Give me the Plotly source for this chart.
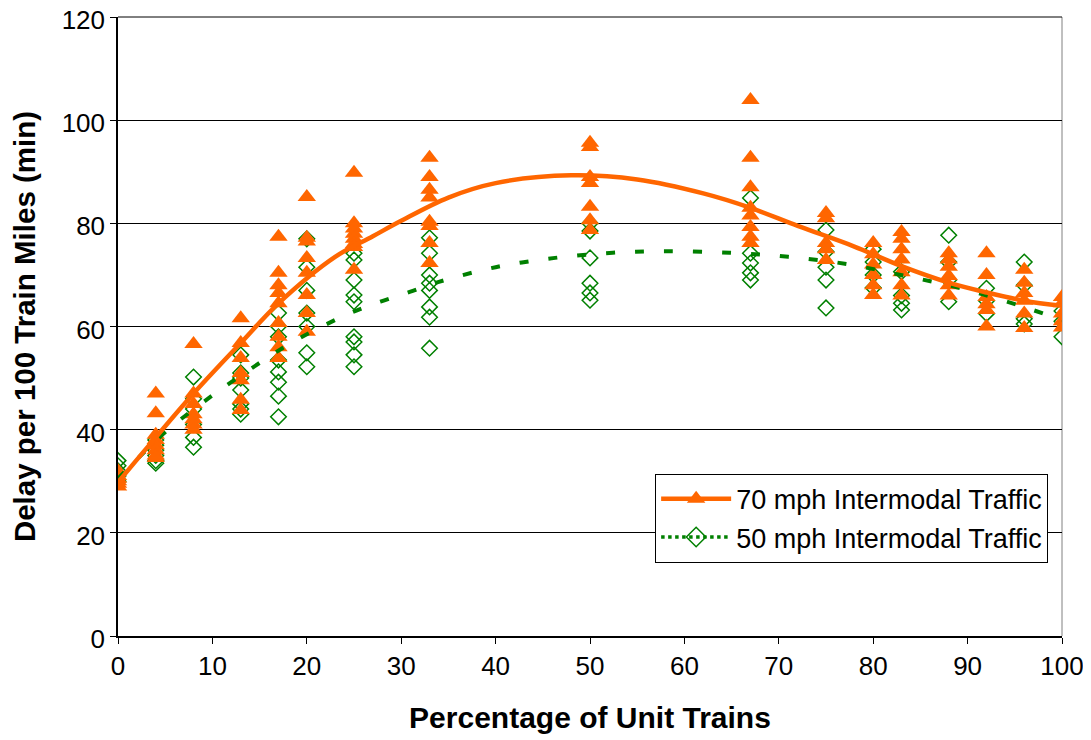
import plotly.graph_objects as go

# Percentage of unit trains at which simulations were run
x_levels = [0, 4, 8, 13, 17, 20, 25, 33, 50, 67, 75, 80, 83, 88, 92, 96, 100]

# 70 mph intermodal traffic delays (min per 100 train miles), one list per x level
delay_70 = [
    [29, 30, 31, 32, 29.5, 30.5],
    [47, 43.2, 39, 38, 37, 36, 35, 34.5],
    [56.6, 47, 45, 43, 42, 41, 40],
    [61.6, 56.8, 53.9, 51, 49.6, 45.8, 43.8],
    [77.4, 70.4, 68, 66.5, 64.5, 60.7, 58, 56, 53.9],
    [85.1, 77.2, 76.5, 73.3, 70.4, 66.1, 62.6, 59],
    [89.8, 80, 79, 78, 77, 76, 75.4, 71],
    [92.7, 89, 86.5, 85, 80.3, 79.5, 76.2, 72.3],
    [95.6, 94.8, 89, 87.8, 83.2, 80.6, 78.7],
    [103.9, 92.7, 87, 83, 81.5, 79.3, 77.4, 76.2],
    [82, 81, 76.2, 75, 72.9],
    [76.2, 74, 72, 70, 68, 66.1],
    [78.3, 77, 75, 73, 70.5, 68, 66],
    [74.2, 73, 71.6, 69.8, 68, 66],
    [74.2, 70, 65.7, 64.3, 63.2, 60],
    [71, 68.5, 66.5, 65, 62.5, 59.7],
    [65.7, 64.5, 62.5, 61, 59.8],
]

# 50 mph intermodal traffic delays
delay_50 = [
    [34, 33, 32, 31, 30],
    [38, 37, 36, 35, 34, 33.5],
    [50.2, 46, 44, 41, 38.5, 36.6],
    [54.5, 51, 50, 47.7, 45, 44, 43],
    [62.6, 60, 58, 53.5, 51.2, 49.2, 46.5, 42.5],
    [77, 71.5, 67, 62.6, 60, 54.9, 52.2],
    [74.2, 72.9, 69, 66.1, 64.8, 58, 57, 54.5, 52.2],
    [77.2, 74.2, 70, 68.4, 67, 63.8, 61.8, 55.8],
    [80, 78.5, 73.3, 68.4, 66.5, 65.1],
    [84.9, 74.2, 72.3, 70.4, 69],
    [78.7, 74.5, 71.5, 69, 63.6],
    [75, 72.5, 70, 67.5],
    [70.6, 66, 64.5, 63.2],
    [77.7, 72.5, 69, 64.8],
    [67.4, 65, 62.5],
    [72.5, 68, 61.5, 60.5],
    [63, 61, 58],
]

# Trend lines
trend70_x = [0, 4, 8, 13, 17, 23, 27, 30, 35, 40, 48, 55, 62, 67, 72, 78, 83, 88, 92, 96, 100]
trend70_y = [29.8, 38.5, 47, 56.8, 64.5, 73.5, 77.5, 80.5, 85, 87.8, 89.3, 88.5, 85.8, 83,
             79.5, 75.5, 71.7, 68.5, 66.6, 65, 64]
trend50_x = [0, 2.7, 5.3, 10.5, 15.8, 18.5, 21.6, 24.6, 27.8, 30.9, 33.9, 40, 46.3, 52.4,
             58, 64.8, 71, 77.2, 83.4, 89.5, 95.6, 100]
trend50_y = [30.5, 35.5, 40, 47.3, 53.9, 57, 60, 62.6, 64.8, 66.7, 68.6, 71.5, 73.3, 74.3,
             74.6, 74.3, 73.5, 72.1, 69.8, 67.3, 64, 61.2]

ORANGE = "#FF6600"
GREEN = "#008000"
FONT = "Arial, Liberation Sans, sans-serif"

def flatten(levels, groups):
    xs, ys = [], []
    for xv, g in zip(levels, groups):
        for yv in g:
            xs.append(xv)
            ys.append(yv)
    return xs, ys

x70, y70 = flatten(x_levels, delay_70)
x50, y50 = flatten(x_levels, delay_50)

fig = go.Figure()

fig.add_trace(go.Scatter(
    x=x50, y=y50, mode="markers", showlegend=False,
    marker=dict(symbol="diamond-open", size=12, color=GREEN, line=dict(width=1.5, color=GREEN)),
))
fig.add_trace(go.Scatter(
    x=x70, y=y70, mode="markers", showlegend=False,
    marker=dict(symbol="triangle-up", size=16, color=ORANGE),
))
fig.add_trace(go.Scatter(
    x=trend50_x, y=trend50_y, mode="lines", showlegend=False, line_shape="spline",
    line=dict(color=GREEN, width=4, dash="9px,20px"),
))
fig.add_trace(go.Scatter(
    x=trend70_x, y=trend70_y, mode="lines", showlegend=False, line_shape="spline",
    line=dict(color=ORANGE, width=4.5),
))

# legend entries
fig.add_trace(go.Scatter(
    x=[None], y=[None], mode="lines+markers", name="70 mph Intermodal Traffic",
    legendgroup="a",
    line=dict(color=ORANGE, width=4.5),
    marker=dict(symbol="triangle-up", size=18, color=ORANGE),
))
fig.add_trace(go.Scatter(
    x=[None], y=[None], mode="lines+markers", name="50 mph Intermodal Traffic",
    legendgroup="b",
    line=dict(color=GREEN, width=3.5, dash="dot"),
    marker=dict(symbol="diamond-open", size=15, color=GREEN, line=dict(width=1.5, color=GREEN)),
))

# page body has an 8px default margin, so margins are offset by it
fig.update_layout(
    width=1091, height=740,
    margin=dict(l=110, r=37, t=9, b=112),
    paper_bgcolor="white", plot_bgcolor="white",
    font=dict(family=FONT, size=26, color="black"),
    legend=dict(
        x=0.569, y=0.262, xanchor="left", yanchor="top",
        bgcolor="white", bordercolor="black", borderwidth=1,
        font=dict(family=FONT, size=27, color="black"),
        tracegroupgap=4, traceorder="normal", itemwidth=70,
    ),
    shapes=[
        dict(type="line", xref="paper", yref="paper", x0=1, x1=1, y0=0, y1=1,
             line=dict(color="#808080", width=1), layer="below"),
        dict(type="line", xref="paper", yref="paper", x0=0, x1=1, y0=1, y1=1,
             line=dict(color="black", width=1), layer="below"),
    ],
)

fig.update_xaxes(
    range=[0, 100], tickmode="array", tickvals=list(range(0, 101, 10)),
    showgrid=False, zeroline=False, automargin=False,
    showline=True, linecolor="black", linewidth=1.5,
    ticks="outside", ticklen=6, tickcolor="black", ticklabeloverflow="allow",
    tickfont=dict(family=FONT, size=26),
    title=dict(text="<b>Percentage of Unit Trains</b>", font=dict(family=FONT, size=30), standoff=27),
)
fig.update_yaxes(
    range=[0, 120], tickmode="array", tickvals=list(range(0, 121, 20)),
    showgrid=True, gridcolor="black", gridwidth=1, zeroline=False, automargin=False,
    showline=True, linecolor="black", linewidth=1.5,
    ticks="outside", ticklen=6, tickcolor="black", ticklabeloverflow="allow",
    ticklabelshift=3,
    tickfont=dict(family=FONT, size=26),
    title=dict(text="<b>Delay per 100 Train Miles (min)</b>", font=dict(family=FONT, size=29.5), standoff=20),
)

fig.write_html("out.html")
